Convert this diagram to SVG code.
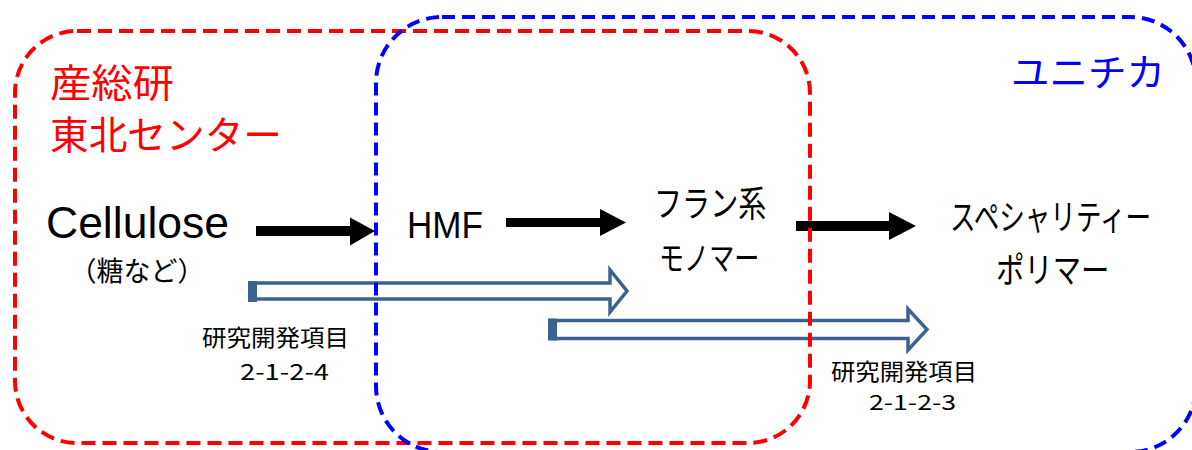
<svg xmlns="http://www.w3.org/2000/svg" width="1192" height="450" viewBox="0 0 1192 450">
  <style>
    .jp { font-family: "Noto Sans CJK JP", "Noto Sans", sans-serif; }
    .lat { font-family: "Liberation Sans", Arial, sans-serif; }
    .region { fill: none; stroke-width: 4; }
    .red { stroke: #FF0000; stroke-dasharray: 14 7; }
    .blue { stroke: #0000FF; stroke-dasharray: 13 7; }
    .solid { fill: #000000; }
    .hollow { fill: #FFFFFF; stroke: #3C6291; stroke-width: 3.5; stroke-linejoin: miter; }
    .cap { fill: #3C6291; }
    .lbl { fill: #000000; }
  </style>
  <rect width="1192" height="450" fill="#FFFFFF"/>

  <g id="connectors">
    <polygon class="solid" points="256,226 350,226 350,217.5 375,231 350,245.5 350,236 256,236"/>
    <polygon class="solid" points="506,218 600,218 600,209 626,222.5 600,236 600,227 506,227"/>
    <polygon class="solid" points="796,221 889,221 889,212 916,226 889,240 889,231 796,231"/>
    <g id="rd-2-1-2-4">
      <polygon class="hollow" points="252.5,283 610,283 610,270 627,291 610,312 610,299 252.5,299"/>
      <rect class="cap" x="248" y="281" width="9" height="21"/>
    </g>
    <g id="rd-2-1-2-3">
      <polygon class="hollow" points="552.5,320.5 908,320.5 908,309 927,329.5 908,350 908,338.5 552.5,338.5"/>
      <rect class="cap" x="548" y="318.5" width="9" height="22"/>
    </g>
  </g>

  <g id="region-aist">
    <rect class="region red" x="15" y="31" width="795" height="412" rx="62" ry="62"/>
    <text class="jp" x="50" y="97" font-size="39" fill="#FF0000" textLength="124" lengthAdjust="spacingAndGlyphs">産総研</text>
    <text class="jp" x="50" y="149" font-size="39" fill="#FF0000" textLength="232" lengthAdjust="spacingAndGlyphs">東北センター</text>
  </g>

  <g id="region-unitika">
    <rect class="region blue" x="376" y="17" width="820" height="435" rx="66" ry="66"/>
    <text class="jp" x="1011" y="86" font-size="38" fill="#0000FF" textLength="154" lengthAdjust="spacingAndGlyphs">ユニチカ</text>
  </g>

  <g id="node-cellulose">
    <text class="lat lbl" x="46" y="238" font-size="44.5" textLength="183" lengthAdjust="spacingAndGlyphs">Cellulose</text>
    <text class="jp lbl" x="137" y="281" font-size="27" text-anchor="middle">（糖など）</text>
  </g>

  <g id="node-hmf">
    <text class="lat lbl" x="407" y="238" font-size="37" textLength="76" lengthAdjust="spacingAndGlyphs">HMF</text>
  </g>

  <g id="node-furan">
    <text class="jp lbl" transform="translate(654,217) scale(0.78,1)" font-size="36">フラン系</text>
    <text class="jp lbl" transform="translate(659,270) scale(0.76,1)" font-size="33">モノマー</text>
  </g>

  <g id="node-specialty">
    <text class="jp lbl" transform="translate(950,230) scale(0.73,1)" font-size="35">スペシャリティー</text>
    <text class="jp lbl" transform="translate(996,283) scale(0.81,1)" font-size="35">ポリマー</text>
  </g>

  <g id="label-2-1-2-4">
    <text class="jp lbl" x="202" y="346" font-size="23" textLength="147" lengthAdjust="spacingAndGlyphs">研究開発項目</text>
    <text class="jp lbl" x="240" y="380" font-size="22" textLength="89" lengthAdjust="spacingAndGlyphs">2-1-2-4</text>
  </g>

  <g id="label-2-1-2-3">
    <text class="jp lbl" x="831" y="380" font-size="23" textLength="146" lengthAdjust="spacingAndGlyphs">研究開発項目</text>
    <text class="jp lbl" x="869" y="410" font-size="21" textLength="87" lengthAdjust="spacingAndGlyphs">2-1-2-3</text>
  </g>
</svg>
